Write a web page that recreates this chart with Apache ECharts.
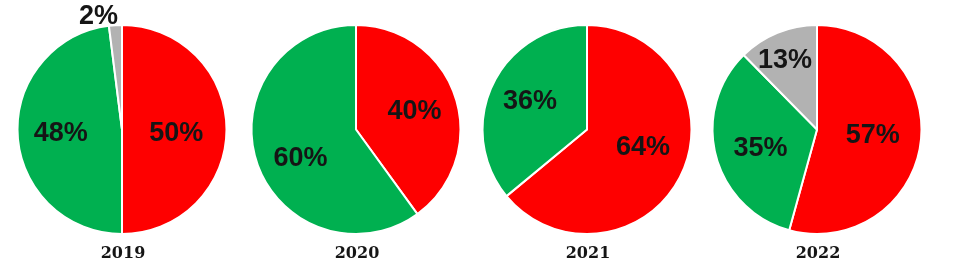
<!DOCTYPE html>
<html><head><meta charset="utf-8">
<script src="https://cdn.jsdelivr.net/npm/echarts@6/dist/echarts.min.js"></script>
<style>html,body{margin:0;padding:0;background:#fff}#c{width:960px;height:274px}</style>
</head><body><div id="c"></div>
<script>
const years = ['2019', '2020', '2021', '2022'];
const redValues = [50, 40, 64, 57];
const greenValues = [48, 60, 36, 35];
const grayValues = [2, 0, 0, 13];

const centersX = [122, 356, 587, 817];
const centerY = 129.5;
const colors = { red: '#fe0000', green: '#00b050', gray: '#b2b2b2' };
// label nudges per pie: [red, green, gray]
const nudges = [
  [[-1, 4], [-6, 1], [-20, -58]],
  [[6, -1], [-3, 12], [0, 0]],
  [[6, -5], [-7, -4], [0, 0]],
  [[1, -1], [-3, 5], [-11, -18]]
];

const chart = echarts.init(document.getElementById('c'), null, { renderer: 'canvas' });
const series = years.map((y, i) => {
  const items = [
    { name: 'red', value: redValues[i], itemStyle: { color: colors.red }, label: { offset: nudges[i][0] } },
    { name: 'green', value: greenValues[i], itemStyle: { color: colors.green }, label: { offset: nudges[i][1] } },
    { name: 'gray', value: grayValues[i], itemStyle: { color: colors.gray }, label: { offset: nudges[i][2] } }
  ].filter(d => d.value > 0);
  return {
    type: 'pie',
    center: [centersX[i], centerY],
    radius: 104.5,
    startAngle: 90,
    clockwise: true,
    animation: false,
    silent: true,
    avoidLabelOverlap: false,
    itemStyle: { borderColor: '#fff', borderWidth: 2 },
    label: {
      show: true,
      position: 'inside',
      formatter: '{c}%',
      fontFamily: 'Liberation Sans, Arial, sans-serif',
      fontWeight: 'bold',
      fontSize: 27,
      color: '#151515',
      textBorderWidth: 0
    },
    labelLine: { show: false },
    data: items
  };
});

chart.setOption({
  backgroundColor: '#fff',
  animation: false,
  series: series,
  graphic: years.map((y, i) => ({
    type: 'text',
    x: centersX[i] + 1,
    y: 254,
    style: {
      text: y,
      fill: '#151515',
      font: 'bold 16px "DejaVu Serif", serif',
      textAlign: 'center',
      textVerticalAlign: 'middle'
    }
  }))
});
</script></body></html>
